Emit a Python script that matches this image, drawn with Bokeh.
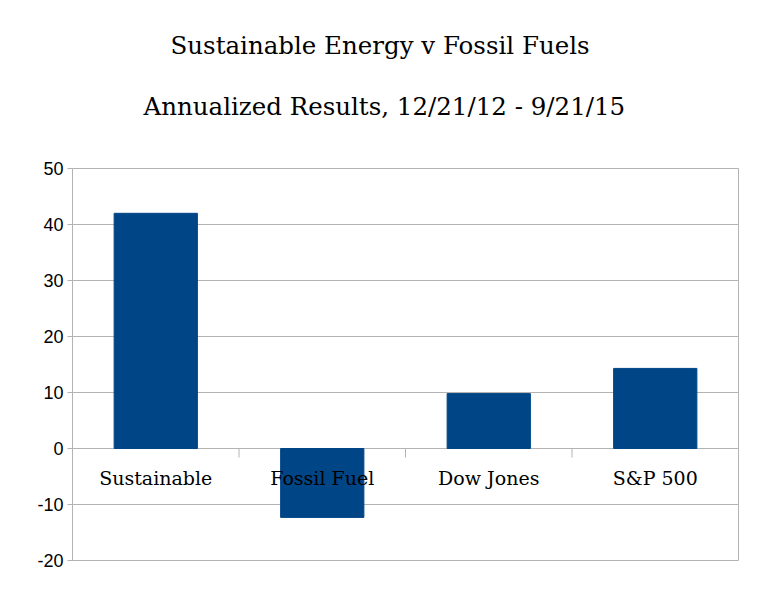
import math
from bokeh.plotting import figure
from bokeh.models import FixedTicker, ColumnDataSource, Range1d, Title
from bokeh.core.properties import value
from bokeh.embed import file_html
from bokeh.resources import INLINE

categories = ["Sustainable", "Fossil Fuel", "Dow Jones", "S&P 500"]
returns = [42.0, -12.3, 9.8, 14.3]
y_ticks = [-20, -10, 0, 10, 20, 30, 40, 50]
title_main = "Sustainable Energy v Fossil Fuels"
title_sub = "Annualized Results, 12/21/12 - 9/21/15"

n = len(categories)
xpos = [i + 0.5 for i in range(n)]
src = ColumnDataSource(dict(x=xpos, top=returns, cat=categories, zero=[0] * n))
bounds = list(range(1, n))

p = figure(width=760, height=606, output_backend="svg", toolbar_location=None,
           x_range=Range1d(0, n), y_range=Range1d(-20, 50),
           min_border_left=72, min_border_right=22, min_border_bottom=46, min_border_top=168)

gray = "#b3b3b3"
serif = "DejaVu Serif"
p.vbar(x="x", top="top", bottom="zero", width=0.5, source=src, color="#004586")
p.ray(x=bounds, y=[0] * len(bounds), length=9, length_units="screen", angle=-math.pi / 2,
      line_color=gray, line_width=1)
p.text(x="x", y="zero", text="cat", source=src, text_align="center", text_baseline="middle",
       y_offset=29, text_font=value(serif), text_font_size="19px", text_color="#000000")

p.outline_line_color = gray
p.xgrid.visible = False
p.ygrid.ticker = FixedTicker(ticks=y_ticks)
p.ygrid.grid_line_color = gray
p.xaxis.visible = False

ya = p.yaxis[0]
ya.ticker = FixedTicker(ticks=y_ticks)
ya.major_label_overrides = {t: str(t) for t in y_ticks}
ya.axis_line_color = gray
ya.major_tick_line_color = gray
ya.major_tick_in = 0
ya.major_tick_out = 5
ya.minor_tick_line_color = None
ya.major_label_text_font = "Liberation Sans"
ya.major_label_text_font_size = "18px"
ya.major_label_text_color = "#000000"
ya.major_label_standoff = 4

t2 = Title(text=title_sub, align="left", offset=71, text_font=serif, text_font_size="24.5px",
           text_font_style="normal", standoff=30, text_color="#000000",
           padding=dict(top=0, right=0, bottom=33, left=0))
t1 = Title(text=title_main, align="left", offset=98, text_font=serif, text_font_size="24.5px",
           text_font_style="normal", standoff=30, text_color="#000000")
p.add_layout(t2, "above")
p.add_layout(t1, "above")

open("out.html", "w").write(file_html(p, INLINE))
